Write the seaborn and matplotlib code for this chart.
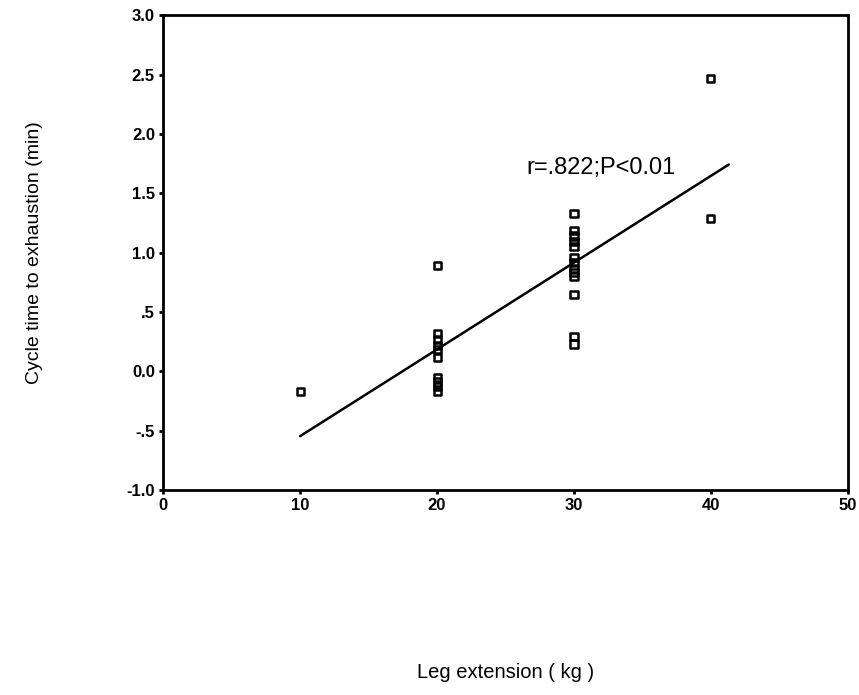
import numpy as np
import pandas as pd
import matplotlib
matplotlib.use("Agg")
import matplotlib.pyplot as plt
import seaborn as sns

# Leg extension load (kg) and cycle time to exhaustion (min) per subject
leg_10 = [10]
time_10 = [-0.17]
leg_20 = [20] * 10
time_20 = [0.89, 0.32, 0.27, 0.22, 0.18, 0.12, -0.05, -0.09, -0.13, -0.17]
leg_30 = [30] * 13
time_30 = [1.33, 1.19, 1.14, 1.09, 1.05, 0.96, 0.92, 0.87, 0.83, 0.80, 0.65, 0.29, 0.23]
leg_40 = [40, 40]
time_40 = [2.47, 1.29]

x_ticks = [0, 10, 20, 30, 40, 50]
y_ticks = [-1.0, -0.5, 0.0, 0.5, 1.0, 1.5, 2.0, 2.5, 3.0]
y_tick_labels = ["-1.0", "-.5", "0.0", ".5", "1.0", "1.5", "2.0", "2.5", "3.0"]
fit_range = [10, 41.3]
stat_label = "r=.822;P<0.01"

df = pd.DataFrame({
    "leg": leg_10 + leg_20 + leg_30 + leg_40,
    "time": time_10 + time_20 + time_30 + time_40,
})

sns.set_theme(style="ticks")
plt.rcParams["font.family"] = ["Liberation Sans", "DejaVu Sans"]
plt.rcParams["text.color"] = "black"
plt.rcParams["axes.labelcolor"] = "black"
plt.rcParams["xtick.color"] = "black"
plt.rcParams["ytick.color"] = "black"

fig = plt.figure(figsize=(8.59, 6.95), dpi=100)
ax = fig.add_axes([0.190, 0.295, 0.797, 0.683])

sns.scatterplot(data=df, x="leg", y="time", marker="s", s=26,
                facecolors="none", edgecolor="black", linewidth=1.8, ax=ax)

# least-squares fit line
slope, intercept = np.polyfit(df["leg"], df["time"], 1)
fx = np.array(fit_range)
fit_df = pd.DataFrame({"leg": fx, "time": slope * fx + intercept})
sns.lineplot(data=fit_df, x="leg", y="time", color="black", linewidth=1.8, ax=ax)

ax.text(26.5, 1.66, stat_label, fontsize=17, color="black", ha="left", va="baseline")

ax.set_xlim(0, 50)
ax.set_ylim(-1.0, 3.0)
ax.set_xticks(x_ticks)
ax.set_xticklabels([str(t) for t in x_ticks], fontsize=12, fontweight="bold")
ax.set_yticks(y_ticks)
ax.set_yticklabels(y_tick_labels, fontsize=12, fontweight="bold")
ax.tick_params(direction="out", length=3, width=2, color="black", pad=3)

for side in ["left", "right", "top", "bottom"]:
    ax.spines[side].set_visible(True)
    ax.spines[side].set_linewidth(2)
    ax.spines[side].set_color("black")

ax.set_xlabel("Leg extension ( kg )", fontsize=14.5, labelpad=108)
ax.set_ylabel("Cycle time to exhaustion (min)", fontsize=14, labelpad=60)

fig.savefig("out.png", dpi=100, facecolor="white")
